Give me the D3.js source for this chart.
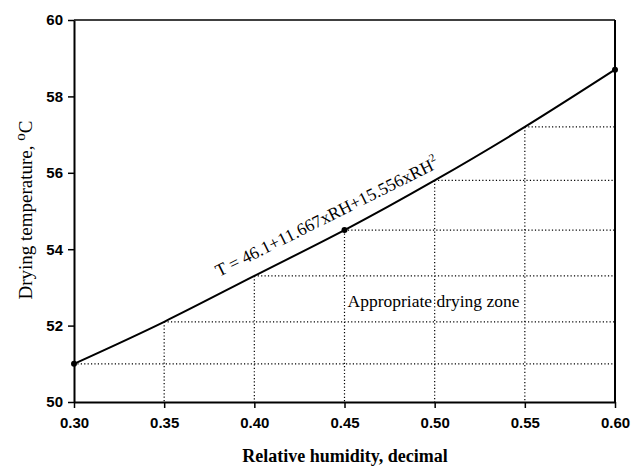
<!DOCTYPE html>
<html>
<head>
<meta charset="utf-8">
<script src="https://cdn.jsdelivr.net/npm/d3@7/dist/d3.min.js"></script>
<style>
  body { margin: 0; background: #fff; }
  svg { display: block; }
  .tick text { font-family: 'Liberation Sans', Arial, sans-serif; font-size: 15px; font-weight: bold; fill: #000; }
  .serif { font-family: 'Liberation Serif', 'Times New Roman', serif; fill: #000; }
</style>
</head>
<body>
<svg id="chart" width="632" height="466"></svg>
<script>
// values
const rhValues = [0.30, 0.35, 0.40, 0.45, 0.50, 0.55, 0.60];
const tempValues = [51.0, 52.1, 53.3, 54.5, 55.8, 57.2, 58.7];
const markerIdx = [0, 3, 6];
const xTicks = [0.30, 0.35, 0.40, 0.45, 0.50, 0.55, 0.60];
const yTicks = [50, 52, 54, 56, 58, 60];

const svg = d3.select('#chart');
const margin = { top: 20, right: 17, bottom: 64, left: 74 };
const width = 632 - margin.left - margin.right;
const height = 466 - margin.top - margin.bottom;

const g = svg.append('g').attr('transform', `translate(${margin.left},${margin.top})`);

const x = d3.scaleLinear().domain([0.30, 0.60]).range([0, width]);
const y = d3.scaleLinear().domain([50, 60]).range([height, 0]);

const pts = rhValues.map((d, i) => ({ rh: d, t: tempValues[i] }));

// zone grid: from each point on the curve, dotted line right and down
const grid = g.append('g');
pts.forEach((p, i) => {
  if (i < pts.length - 1) {
    grid.append('line')
      .attr('x1', x(p.rh)).attr('x2', x(0.60))
      .attr('y1', y(p.t)).attr('y2', y(p.t))
      .attr('stroke', '#000').attr('stroke-width', 1.2)
      .attr('stroke-dasharray', '1.2,2.2');
  }
  if (i > 0 && i < pts.length - 1) {
    grid.append('line')
      .attr('x1', x(p.rh)).attr('x2', x(p.rh))
      .attr('y1', y(p.t)).attr('y2', y(50))
      .attr('stroke', '#000').attr('stroke-width', 1.2)
      .attr('stroke-dasharray', '1.2,2.2');
  }
});

// frame
g.append('line').attr('x1', 0).attr('x2', width).attr('y1', 0).attr('y2', 0)
  .attr('stroke', '#000').attr('stroke-width', 1.5);
g.append('line').attr('x1', width).attr('x2', width).attr('y1', 0).attr('y2', height)
  .attr('stroke', '#000').attr('stroke-width', 2);

const xAxis = g.append('g')
  .attr('transform', `translate(0,${height})`)
  .call(d3.axisBottom(x).tickValues(xTicks).tickFormat(d3.format('.2f')).tickSize(6).tickSizeOuter(0));
const yAxis = g.append('g')
  .call(d3.axisLeft(y).tickValues(yTicks).tickSize(6).tickSizeOuter(0));

[xAxis, yAxis].forEach(a => {
  a.select('.domain').attr('stroke', '#000').attr('stroke-width', 2);
  a.selectAll('.tick line').attr('stroke', '#000').attr('stroke-width', 1.5);
});
xAxis.selectAll('.tick text').attr('dy', '1.1em');
yAxis.selectAll('.tick text').attr('x', -11);

// curve
const line = d3.line()
  .x(d => x(d.rh))
  .y(d => y(d.t))
  .curve(d3.curveNatural);

g.append('path')
  .datum(pts)
  .attr('d', line)
  .attr('fill', 'none')
  .attr('stroke', '#000')
  .attr('stroke-width', 2);

g.selectAll('.marker')
  .data(markerIdx.map(i => pts[i]))
  .enter()
  .append('circle')
  .attr('class', 'marker')
  .attr('cx', d => x(d.rh))
  .attr('cy', d => y(d.t))
  .attr('r', 3)
  .attr('fill', '#000');

// equation label along the curve
const eq = svg.append('text')
  .attr('class', 'serif')
  .attr('font-size', 17.5)
  .attr('transform', 'translate(219,277) rotate(-26.5)');
eq.append('tspan').text('T = 46.1+11.667xRH+15.556xRH');
eq.append('tspan').attr('dy', -8).attr('font-size', 11).text('2');

svg.append('text')
  .attr('class', 'serif')
  .attr('font-size', 17.5)
  .attr('x', margin.left + x(0.45) + 3)
  .attr('y', 307)
  .text('Appropriate drying zone');

// axis titles
svg.append('text')
  .attr('class', 'serif')
  .attr('font-size', 18)
  .attr('font-weight', 'bold')
  .attr('text-anchor', 'middle')
  .attr('x', 345)
  .attr('y', 462)
  .text('Relative humidity, decimal');

const yt = svg.append('text')
  .attr('class', 'serif')
  .attr('font-size', 19)
  .attr('text-anchor', 'middle')
  .attr('transform', 'translate(32,210) rotate(-90)');
yt.append('tspan').text('Drying temperature, ');
yt.append('tspan').attr('dy', -7).attr('font-size', 15).text('o');
yt.append('tspan').attr('dy', 7).text('C');
</script>
</body>
</html>
